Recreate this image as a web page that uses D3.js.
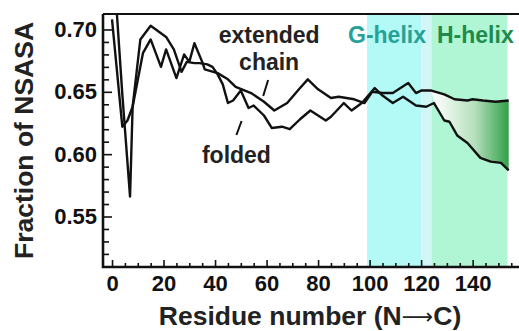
<!DOCTYPE html>
<html lang="en">
  <head>
    <meta charset="UTF-8" />
    <title>NSASA</title>
    <style>
      body { margin: 0; background: #fff; }
      #chart { width: 519px; height: 331px; overflow: hidden; }
      text { font-family: "Liberation Sans", Arial, sans-serif; font-weight: bold; }
    </style>
  </head>
  <body>
    <div id="chart"></div>
    <script src="https://cdn.jsdelivr.net/npm/d3@7"></script>
    <script>
      // residue numbers and NSASA fraction
      var extendedRes = [0, 4, 6, 8, 12, 15, 19, 21, 25, 28, 30, 32, 35, 36, 41, 45, 48, 54, 59, 63, 68, 73, 76, 80, 85, 88, 94, 98, 101, 105, 109, 112, 115, 118, 120, 124, 129, 133, 138, 140, 144, 149, 154];
      var extendedVal = [0.708, 0.622, 0.627, 0.638, 0.681, 0.692, 0.670, 0.684, 0.661, 0.680, 0.674, 0.689, 0.674, 0.668, 0.665, 0.660, 0.654, 0.649, 0.642, 0.635, 0.641, 0.653, 0.660, 0.652, 0.645, 0.646, 0.644, 0.641, 0.650, 0.649, 0.649, 0.653, 0.657, 0.649, 0.651, 0.651, 0.648, 0.644, 0.643, 0.644, 0.643, 0.642, 0.643];

      var foldedRes = [1, 4, 7, 8, 11, 15, 21, 24, 27, 29, 32, 34, 37, 39, 41, 43, 45, 47, 50, 53, 55, 59, 62, 66, 69, 73, 77, 83, 85, 90, 93, 97, 102, 105, 109, 113, 118, 122, 125, 127, 129, 131, 134, 138, 143, 147, 151, 154];
      var foldedVal = [0.740, 0.648, 0.566, 0.638, 0.692, 0.703, 0.694, 0.684, 0.666, 0.674, 0.673, 0.673, 0.672, 0.670, 0.664, 0.656, 0.641, 0.643, 0.651, 0.637, 0.639, 0.631, 0.621, 0.622, 0.620, 0.628, 0.635, 0.627, 0.630, 0.641, 0.635, 0.641, 0.653, 0.647, 0.641, 0.646, 0.639, 0.638, 0.641, 0.634, 0.627, 0.626, 0.615, 0.609, 0.597, 0.594, 0.593, 0.587];

      // helix ranges (residues)
      var gHelix = [99, 120];
      var gFade = [120, 124];
      var hHelix = [124, 153.5];

      var xTicks = [0, 20, 40, 60, 80, 100, 120, 140];
      var yTicks = [0.55, 0.6, 0.65, 0.7];

      var width = 519, height = 331;
      var pLeft = 103, pRight = 519, pTop = 14, pBottom = 267;

      var svg = d3
        .select("#chart")
        .append("svg")
        .attr("width", width)
        .attr("height", height);

      var x = d3.scaleLinear().domain([-3.5, 158]).range([pLeft, pRight]);
      var y = d3.scaleLinear().domain([0.5095, 0.7124]).range([pBottom, pTop]);

      var defs = svg.append("defs");
      defs.append("clipPath").attr("id", "plotclip")
        .append("rect")
        .attr("x", pLeft).attr("y", pTop)
        .attr("width", pRight - pLeft).attr("height", pBottom - pTop);

      var grad = defs.append("linearGradient")
        .attr("id", "fillgrad")
        .attr("gradientUnits", "userSpaceOnUse")
        .attr("x1", x(125)).attr("x2", x(154))
        .attr("y1", 0).attr("y2", 0);
      grad.append("stop").attr("offset", "0%").style("stop-color", "#ffffff");
      grad.append("stop").attr("offset", "55%").style("stop-color", "#b4dfbb");
      grad.append("stop").attr("offset", "100%").style("stop-color", "#31a048");

      // helix bands
      svg.append("rect")
        .attr("x", x(gHelix[0])).attr("y", pTop)
        .attr("width", x(gHelix[1]) - x(gHelix[0])).attr("height", pBottom - pTop)
        .attr("fill", "#b3faf7");
      svg.append("rect")
        .attr("x", x(gFade[0])).attr("y", pTop)
        .attr("width", x(gFade[1]) - x(gFade[0])).attr("height", pBottom - pTop)
        .attr("fill", "#d2f6f6");
      svg.append("rect")
        .attr("x", x(hHelix[0])).attr("y", pTop)
        .attr("width", x(hHelix[1]) - x(hHelix[0])).attr("height", pBottom - pTop)
        .attr("fill", "#b1f6d4");

      var extended = extendedRes.map(function (r, i) { return [r, extendedVal[i]]; });
      var folded = foldedRes.map(function (r, i) { return [r, foldedVal[i]]; });

      var line = d3.line()
        .x(function (d) { return x(d[0]); })
        .y(function (d) { return y(d[1]); });

      // shaded gap between the curves in the H-helix
      var upper = extended.filter(function (d) { return d[0] >= 124; });
      var lower = folded.filter(function (d) { return d[0] >= 125; }).reverse();
      svg.append("path")
        .attr("d", line(upper.concat(lower)) + "Z")
        .attr("fill", "url(#fillgrad)");

      var lines = svg.append("g").attr("clip-path", "url(#plotclip)");
      [extended, folded].forEach(function (s) {
        lines.append("path")
          .attr("d", line(s))
          .attr("fill", "none")
          .attr("stroke", "#111")
          .attr("stroke-width", 2.4)
          .attr("stroke-linejoin", "round");
      });

      // axes
      var yAxis = svg.append("g")
        .attr("transform", "translate(" + pLeft + ",0)")
        .call(d3.axisLeft(y).tickValues(d3.range(51, 71).map(function (k) { return k / 100; })).tickSize(-6).tickFormat(""));
      yAxis.selectAll(".tick line")
        .attr("x2", function (d) { return Math.round(d * 100) % 5 === 0 ? 9 : 6; })
        .attr("stroke", "#111").attr("stroke-width", 1.6);
      yAxis.select(".domain").remove();

      var yLab = svg.append("g")
        .attr("transform", "translate(" + pLeft + ",0)")
        .call(d3.axisLeft(y).tickValues(yTicks).tickSize(0).tickPadding(6).tickFormat(d3.format(".2f")));
      yLab.select(".domain").remove();
      yLab.selectAll("text")
        .attr("fill", "#111")
        .style("font-size", "22px");

      var xAxis = svg.append("g")
        .attr("transform", "translate(0," + pBottom + ")")
        .call(d3.axisBottom(x).tickValues(d3.range(0, 156, 5)).tickSize(-4).tickFormat(""));
      xAxis.selectAll(".tick line")
        .attr("y2", function (d) { return d % 20 === 0 ? -7 : -4; })
        .attr("stroke", "#111").attr("stroke-width", 1.6);
      xAxis.select(".domain").remove();

      var xLab = svg.append("g")
        .attr("transform", "translate(0," + pBottom + ")")
        .call(d3.axisBottom(x).tickValues(xTicks).tickSize(0).tickPadding(8));
      xLab.select(".domain").remove();
      xLab.selectAll("text")
        .attr("fill", "#111")
        .style("font-size", "22px");

      // frame
      svg.append("path")
        .attr("d", "M" + pLeft + "," + pTop + "H" + pRight)
        .attr("stroke", "#111").attr("stroke-width", 2).attr("fill", "none");
      svg.append("path")
        .attr("d", "M" + pLeft + "," + pTop + "V" + pBottom + "H" + pRight)
        .attr("stroke", "#111").attr("stroke-width", 2.6).attr("fill", "none");

      // axis titles
      svg.append("text")
        .attr("transform", "translate(33," + (pTop + pBottom) / 2 + ") rotate(-90)")
        .attr("text-anchor", "middle")
        .attr("fill", "#222")
        .style("font-size", "26.5px")
        .text("Fraction of NSASA");
      var xt = svg.append("text")
        .attr("x", 310).attr("y", 325)
        .attr("text-anchor", "middle")
        .attr("fill", "#222")
        .style("font-size", "26.5px");
      xt.append("tspan").text("Residue number (N");
      xt.append("tspan")
        .style("font-family", "DejaVu Sans")
        .style("font-weight", "normal")
        .style("font-size", "22px")
        .attr("dy", -1)
        .text("\u27F6");
      xt.append("tspan").attr("dy", 1).text("C)");

      // annotations
      svg.append("text").attr("x", x(61)).attr("y", 43)
        .attr("text-anchor", "middle").attr("fill", "#222").style("font-size", "23px")
        .text("extended");
      svg.append("text").attr("x", x(61)).attr("y", 70)
        .attr("text-anchor", "middle").attr("fill", "#222").style("font-size", "23px")
        .text("chain");
      svg.append("text").attr("x", x(48.3)).attr("y", 163)
        .attr("text-anchor", "middle").attr("fill", "#222").style("font-size", "23px")
        .text("folded");
      svg.append("line")
        .attr("x1", x(60.6)).attr("y1", 80).attr("x2", x(58.7)).attr("y2", 96)
        .attr("stroke", "#111").attr("stroke-width", 2);
      svg.append("line")
        .attr("x1", x(50.3)).attr("y1", 121).attr("x2", x(48.3)).attr("y2", 135)
        .attr("stroke", "#111").attr("stroke-width", 2);

      svg.append("text").attr("x", 348).attr("y", 43)
        .attr("fill", "#27a196").style("font-size", "23px")
        .text("G-helix");
      svg.append("text").attr("x", 437).attr("y", 43)
        .attr("fill", "#1e8b4c").style("font-size", "23px")
        .text("H-helix");
    </script>
  </body>
</html>
